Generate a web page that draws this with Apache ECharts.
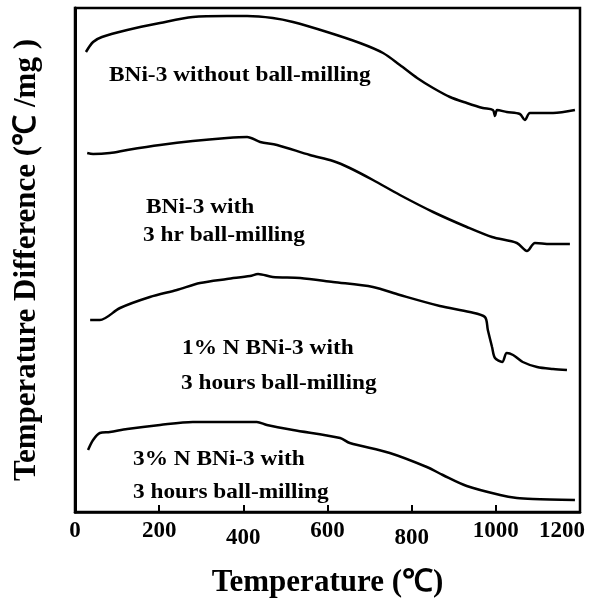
<!DOCTYPE html>
<html>
<head>
<meta charset="utf-8">
<script src="https://cdn.jsdelivr.net/npm/echarts@6/dist/echarts.min.js"></script>
<style>
html, body { margin: 0; padding: 0; background: #fff; }
#chart { width: 607px; height: 604px; }
</style>
</head>
<body>
<div id="chart"></div>
<script>
// x tick labels (temperature, ℃)
var xTicks = [0, 200, 400, 600, 800, 1000, 1200];

// curve 1: BNi-3 without ball-milling
var temp1 = [26, 43, 64, 124, 202, 280, 361, 409, 470, 518, 599, 677, 732, 772, 813, 851, 891, 931, 969, 993, 998, 1003, 1026, 1057, 1069, 1081, 1136, 1188];
var dta1  = [460, 470, 475, 482, 489, 495, 496, 496, 494, 490, 480, 469, 459, 447, 434, 424, 415, 409, 404, 402, 396, 402, 400, 398, 392, 399, 399, 402];

// curve 2: BNi-3 with 3 hr ball-milling
var temp2 = [29, 43, 83, 124, 202, 280, 361, 409, 440, 480, 558, 613, 653, 708, 772, 851, 931, 991, 1050, 1074, 1093, 1129, 1176];
var dta2  = [359, 358, 359, 362, 367, 371, 374, 375, 370, 367, 357, 351, 344, 332, 317, 300, 285, 275, 269, 261, 269, 268, 268];

// curve 3: 1% N BNi-3 with 3 hours ball-milling
var temp3 = [36, 59, 107, 178, 242, 297, 361, 416, 435, 470, 535, 613, 708, 772, 867, 938, 974, 981, 991, 998, 1015, 1026, 1041, 1064, 1098, 1136, 1169];
var dta3  = [192, 192, 204, 215, 222, 229, 233, 236, 238, 235, 234, 230, 225, 217, 206, 200, 195, 182, 165, 154, 150, 159, 157, 150, 145, 143, 142];

// curve 4: 3% N BNi-3 with 3 hours ball-milling
var temp4 = [31, 43, 59, 83, 124, 202, 280, 361, 432, 456, 518, 630, 653, 748, 836, 874, 931, 1010, 1050, 1088, 1188];
var dta4  = [62, 72, 79, 80, 83, 87, 90, 90, 90, 87, 82, 74, 69, 59, 45, 37, 26, 17, 14, 13, 12];

var zip = function (xs, ys) {
    var out = [];
    for (var i = 0; i < xs.length; i++) out.push([xs[i], ys[i]]);
    return out;
};

var font = '"Liberation Serif", "Times New Roman", serif';
var lowTicks = [400, 800]; // these tick labels sit a bit lower in the original

var curve = function (xs, ys) {
    return {
        type: 'line',
        data: zip(xs, ys),
        showSymbol: false,
        smooth: 0.3,
        lineStyle: { color: '#000', width: 2.5 },
        animation: false
    };
};

// the printed labels look a little wide, so stretch them slightly
var label = function (text, x, y) {
    return {
        type: 'text',
        left: x,
        top: y,
        scaleX: 1.06,
        style: { text: text, font: 'bold 22px ' + font, fill: '#000' }
    };
};

var tickStyle = function (pad) {
    return { fontFamily: font, fontWeight: 'bold', fontSize: 23, color: '#000', padding: pad };
};

var myChart = echarts.init(document.getElementById('chart'));
var option = {
    backgroundColor: '#fff',
    animation: false,
    grid: {
        left: 75, right: 27, top: 8, bottom: 92,
        show: true, borderColor: '#000', borderWidth: 2.5
    },
    xAxis: {
        type: 'value',
        min: 0, max: 1200, interval: 200,
        name: 'Temperature (℃)',
        nameLocation: 'middle',
        nameGap: 55,
        nameTextStyle: { fontFamily: font, fontWeight: 'bold', fontSize: 31, color: '#000' },
        axisLine: { lineStyle: { color: '#000', width: 2.5 } },
        axisTick: { inside: true, length: 7, lineStyle: { color: '#000', width: 2 } },
        splitLine: { show: false },
        axisLabel: {
            margin: 8,
            formatter: function (v) {
                if (v === xTicks[xTicks.length - 1]) return '{end|' + v + '}';
                return lowTicks.indexOf(v) >= 0 ? '{lo|' + v + '}' : '{hi|' + v + '}';
            },
            rich: {
                hi: tickStyle([0, 0, 7, 0]),
                lo: tickStyle([7, 0, 0, 0]),
                end: tickStyle([0, 36, 7, 0])
            }
        }
    },
    yAxis: {
        type: 'value',
        min: 0, max: 504,
        name: 'Temperature Difference (℃ /mg )',
        nameLocation: 'middle',
        nameGap: 33,
        nameRotate: 90,
        nameTextStyle: { fontFamily: font, fontWeight: 'bold', fontSize: 31, color: '#000' },
        axisLine: { show: true, lineStyle: { color: '#000', width: 3 } },
        axisTick: { show: false },
        axisLabel: { show: false },
        splitLine: { show: false }
    },
    graphic: [
        label('BNi-3 without ball-milling', 109, 64),
        label('BNi-3 with', 146, 196),
        label('3 hr ball-milling', 143, 224),
        label('1% N BNi-3 with', 182, 337),
        label('3 hours ball-milling', 181, 372),
        label('3% N BNi-3 with', 133, 448),
        label('3 hours ball-milling', 133, 481)
    ],
    series: [
        curve(temp1, dta1),
        curve(temp2, dta2),
        curve(temp3, dta3),
        curve(temp4, dta4)
    ]
};
myChart.setOption(option);
</script>
</body>
</html>
